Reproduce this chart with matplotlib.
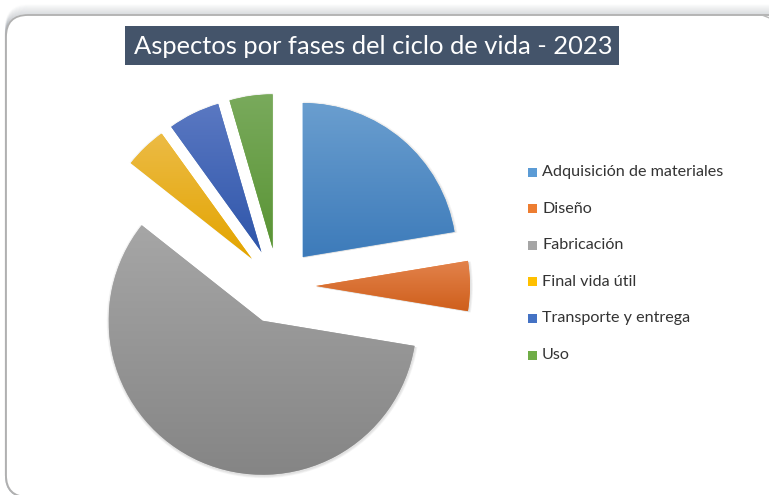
import matplotlib
matplotlib.use('Agg')
import matplotlib.pyplot as plt
import numpy as np
from matplotlib.patches import FancyBboxPatch, Rectangle, Wedge
from matplotlib.colors import to_rgb

categories = ["Adquisición de materiales", "Diseño", "Fabricación",
              "Final vida útil", "Transporte y entrega", "Uso"]
values = [22.3, 5.2, 57.8, 4.4, 5.4, 4.5]
title = "Aspectos por fases del ciclo de vida - 2023"

base_colors = ['#5B9BD5', '#ED7D31', '#A5A5A5', '#FFC000', '#4472C4', '#70AD47']
top_colors = ['#6a9ecf', '#e3834c', '#a6a6a6', '#ecbb45', '#5a78c2', '#79aa5c']
bottom_colors = ['#3d7bba', '#cf5f1c', '#858585', '#e3a400', '#2f56aa', '#5a9435']

FONT = ['Lato', 'DejaVu Sans']
W, H = 769, 495
fig = plt.figure(figsize=(W / 100, H / 100), dpi=100)
fig.patch.set_facecolor('white')
ax = fig.add_axes([0, 0, 1, 1])

# card background with top shadow
CX0, CY0, CW = 6, -2, 764
CH = H - 15 - CY0
for k in range(1, 12):
    sh = FancyBboxPatch((CX0, CY0), CW + 40, CH + k * 0.9,
                        boxstyle="round,pad=0,rounding_size=22",
                        facecolor='none', edgecolor='#8a919b',
                        alpha=0.16 * (1 - k / 12), lw=1.5, zorder=0)
    ax.add_patch(sh)
card = FancyBboxPatch((CX0, CY0), CW + 40, CH,
                      boxstyle="round,pad=0,rounding_size=22",
                      facecolor='white', edgecolor='#b0b0b0', lw=1.3, zorder=1)
ax.add_patch(card)
# top-right corner hint (card continues past the right edge)
ax.plot([CX0 + CW - 8, CX0 + CW + 2], [H - 15, H - 19], color='#b8b8b8', lw=1.0, zorder=1)

cx, cy = 278, H - 286
R = 154
D = 38
wedges, _ = ax.pie(values, colors=base_colors, startangle=90, counterclock=False,
                   radius=R, center=(cx, cy), wedgeprops=dict(linewidth=0))
for i, w in enumerate(wedges):
    tm = np.deg2rad((w.theta1 + w.theta2) / 2)
    w.set_center((cx + D * np.cos(tm), cy + D * np.sin(tm)))
    w.set_zorder(3)
    for s in range(1, 4):
        shw = Wedge((cx + D * np.cos(tm) + 0.5, cy + D * np.sin(tm) - 1.0),
                    R + s * 0.8, w.theta1, w.theta2,
                    facecolor='#000000', alpha=0.04, lw=0, zorder=2)
        ax.add_patch(shw)

fig.canvas.draw()
for i, w in enumerate(wedges):
    ext = w.get_path().get_extents(w.get_patch_transform())
    c0 = np.array(to_rgb(top_colors[i]))
    c1 = np.array(to_rgb(bottom_colors[i]))
    t = np.linspace(0, 1, 256)[:, None]
    grad = (c0[None, :] * (1 - t) + c1[None, :] * t)[:, None, :]
    im = ax.imshow(grad, extent=(ext.x0, ext.x1, ext.y0, ext.y1), origin='upper',
                   aspect='auto', interpolation='bilinear', zorder=4)
    im.set_clip_path(w)

ax.set_xlim(0, W)
ax.set_ylim(0, H)
ax.set_aspect('auto')
ax.axis('off')

renderer = fig.canvas.get_renderer()


def fit_text(x, y, s, target_w, size0, **kw):
    t = ax.text(x, y, s, fontsize=size0, family=FONT, **kw)
    for _ in range(3):
        bb = t.get_window_extent(renderer)
        t.set_fontsize(t.get_fontsize() * target_w / bb.width)
    return t


# title
ax.add_patch(Rectangle((125, H - 65), 494, 39, facecolor='#44546A', lw=0, zorder=5))
fit_text(373, H - 46.5, title, 478, 17, color='white', ha='center',
         va='center', zorder=6)

# legend
y0 = 172
dy = 36.6
for i, cat in enumerate(categories):
    yy = H - (y0 + dy * i)
    ax.add_patch(Rectangle((528, yy - 4.5), 9, 9, facecolor=base_colors[i], lw=0, zorder=5))
t0 = fit_text(542, H - y0, categories[0], 181, 11, color='#333333',
              ha='left', va='center', zorder=6)
fs = t0.get_fontsize()
for i, cat in enumerate(categories[1:], start=1):
    ax.text(542, H - (y0 + dy * i), cat, fontsize=fs, family=FONT, color='#333333',
            ha='left', va='center', zorder=6)

fig.savefig('out.png', dpi=100)
